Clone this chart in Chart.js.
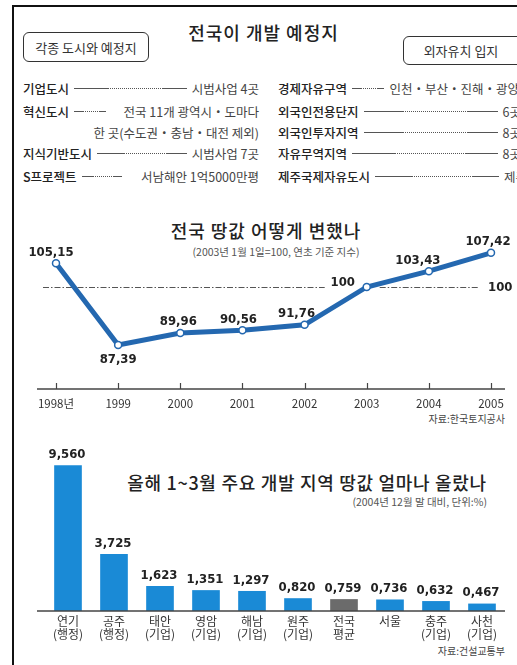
<!DOCTYPE html>
<html><head><meta charset="utf-8">
<script src="https://cdn.jsdelivr.net/npm/chart.js@4.4.1/dist/chart.umd.min.js"></script>
<style>
html,body{margin:0;padding:0;}
body{width:517px;height:665px;position:relative;overflow:hidden;background:#fff;font-family:'Noto Sans CJK KR',sans-serif;color:#222;}
.fTop{position:absolute;left:12px;top:5px;width:520px;height:2px;background:#111;}
.fLeft{position:absolute;left:12px;top:5px;width:2px;height:670px;background:#111;}
.t{position:absolute;white-space:nowrap;line-height:1;}
.box{position:absolute;border:1px solid #333;border-radius:6px;box-sizing:border-box;display:flex;align-items:center;justify-content:center;font-size:13px;color:#333;background:#fff;}
.row{position:absolute;display:flex;align-items:center;height:18px;font-size:12.5px;white-space:nowrap;}
.lab{font-weight:500;color:#222;}
.val{color:#444;}
.lead{flex:1;margin:0 5px;height:0;border-top:1px dotted #555;position:relative;}
.lead::before{content:'';position:absolute;left:0;top:-1px;width:30%;border-top:1px solid #555;}
.lead::after{content:'';position:absolute;right:0;top:-1px;width:22%;border-top:1px solid #555;}
canvas{position:absolute;left:0;}
</style></head>
<body>
<div class="fTop"></div><div class="fLeft"></div>

<div class="t" style="left:0;width:527px;top:23px;text-align:center;font-size:18px;letter-spacing:1px;font-weight:500;">전국이 개발 예정지</div>
<div class="box" style="left:23px;top:32px;width:126px;height:30px;">각종 도시와 예정지</div>
<div class="box" style="left:403px;top:36px;width:130px;height:29px;"><span style="margin-right:14px">외자유치 입지</span></div>

<div class="row" style="left:23px;width:236px;top:79px"><span class="lab">기업도시</span><span class="lead"></span><span class="val">시범사업 4곳</span></div>
<div class="row" style="left:23px;width:236px;top:102px"><span class="lab">혁신도시</span><span class="lead" style="flex:0 0 32px"></span><span class="val" style="margin-left:auto">전국 11개 광역시・도마다</span></div>
<div class="row" style="left:23px;width:236px;top:123px;justify-content:flex-end"><span class="val">한 곳(수도권・충남・대전 제외)</span></div>
<div class="row" style="left:23px;width:236px;top:144px"><span class="lab">지식기반도시</span><span class="lead"></span><span class="val">시범사업 7곳</span></div>
<div class="row" style="left:23px;width:236px;top:167px"><span class="lab">S프로젝트</span><span class="lead" style="flex:0 0 40px"></span><span class="val" style="margin-left:auto">서남해안 1억5000만평</span></div>

<div class="row" style="left:278px;width:241px;top:79px"><span class="lab">경제자유구역</span><span class="lead"></span><span class="val">인천・부산・진해・광양</span></div>
<div class="row" style="left:278px;width:243px;top:102px"><span class="lab">외국인전용단지</span><span class="lead"></span><span class="val">6곳</span></div>
<div class="row" style="left:278px;width:243px;top:123px"><span class="lab">외국인투자지역</span><span class="lead"></span><span class="val">8곳</span></div>
<div class="row" style="left:278px;width:243px;top:144px"><span class="lab">자유무역지역</span><span class="lead"></span><span class="val">8곳</span></div>
<div class="row" style="left:278px;width:249px;top:167px"><span class="lab">제주국제자유도시</span><span class="lead"></span><span class="val">제주</span></div>

<div class="t" style="left:0;width:532px;top:221px;text-align:center;font-size:18px;letter-spacing:1px;font-weight:500;">전국 땅값 어떻게 변했나</div>
<div class="t" style="left:0;width:552px;top:247px;text-align:center;font-size:10.5px;color:#555;">(2003년 1월 1일=100, 연초 기준 지수)</div>
<div class="t" style="right:12px;top:414px;font-size:10px;color:#444;">자료:한국토지공사</div>

<div class="t" style="left:107px;width:400px;top:473px;text-align:center;font-size:18px;letter-spacing:0.7px;font-weight:500;">올해 1~3월 주요 개발 지역 땅값 얼마나 올랐나</div>
<div class="t" style="right:30px;top:497px;font-size:10.5px;color:#555;">(2004년 12월 말 대비, 단위:%)</div>
<div class="t" style="right:12px;top:646px;font-size:10px;color:#444;">자료:건설교통부</div>

<canvas id="line" width="517" height="240" style="top:200px"></canvas>
<canvas id="bar" width="517" height="225" style="top:440px"></canvas>

<script>
// ---- data ----
const years = ['1998년','1999','2000','2001','2002','2003','2004','2005'];
const landIndex = [105.15, 87.39, 89.96, 90.56, 91.76, 100, 103.43, 107.42];
const baseIndex = 100;

const regions = [['연기','(행정)'],['공주','(행정)'],['태안','(기업)'],['영암','(기업)'],['해남','(기업)'],['원주','(기업)'],['전국','평균'],['서울'],['충주','(기업)'],['사천','(기업)']];
const riseRates = [9.560, 3.725, 1.623, 1.351, 1.297, 0.820, 0.759, 0.736, 0.632, 0.467];
const highlightIndex = 6; // 전국 평균

// ---- styling / label placement ----
const numFont = "bold 13px 'Liberation Sans Narrow','DejaVu Sans Condensed',sans-serif";
const lineLabelDx = [-5, 0, -2, -4, -8, -24, -11, -3];
const lineLabelDy = [-11, 15, -11, -11, -11, -4, -11, -11];
const fmt = (v, d) => Number.isInteger(v) ? String(v) : v.toFixed(d).replace('.', ',');

const axisPlugin = (extL, extR, ticksUp) => ({
  id: 'axisLine',
  afterDraw(chart) {
    const ctx = chart.ctx, xs = chart.scales.x, ca = chart.chartArea;
    const y = ca.bottom;
    ctx.save();
    ctx.strokeStyle = '#444'; ctx.lineWidth = 1.5;
    ctx.beginPath(); ctx.moveTo(ca.left - extL, y); ctx.lineTo(ca.right + extR, y); ctx.stroke();
    if (ticksUp) {
      ctx.lineWidth = 1.2;
      xs.ticks.forEach((t, i) => {
        const x = Math.round(xs.getPixelForTick(i)) + 0.5;
        ctx.beginPath(); ctx.moveTo(x, y - 6); ctx.lineTo(x, y); ctx.stroke();
      });
    }
    ctx.restore();
  }
});

// ---- line chart ----
new Chart(document.getElementById('line'), {
  type: 'line',
  data: { labels: years, datasets: [{
    data: landIndex, borderColor: '#2468b0', borderWidth: 5, tension: 0,
    pointRadius: 3.5, pointBorderWidth: 1.5, pointBackgroundColor: '#fff', pointBorderColor: '#2468b0',
    clip: false
  }]},
  options: {
    responsive: false, animation: false, devicePixelRatio: 1,
    layout: { padding: { top: 41, left: 56, right: 26, bottom: 21 } },
    plugins: { legend: { display: false }, tooltip: { enabled: false } },
    scales: {
      y: { display: false, min: 77.8, max: 110 },
      x: { offset: false, border: { display: false }, grid: { display: false },
           afterFit: s => { s.height = 30; },
           ticks: { padding: 0, color: '#333', maxRotation: 0, autoSkip: false,
                    font: { family: "'Liberation Sans Narrow','Noto Sans CJK KR',sans-serif", size: 11.5 } } }
    }
  },
  plugins: [
    axisPlugin(19, 14, true),
    {
      id: 'baseLine',
      beforeDatasetsDraw(chart) {
        const ctx = chart.ctx, xs = chart.scales.x, ys = chart.scales.y;
        const y = Math.round(ys.getPixelForValue(baseIndex)) + 0.5;
        const i5 = landIndex.indexOf(baseIndex), n = landIndex.length - 1;
        ctx.save();
        ctx.strokeStyle = '#555'; ctx.lineWidth = 1; ctx.setLineDash([6, 2, 1.5, 2]);
        ctx.beginPath();
        ctx.moveTo(xs.getPixelForValue(0) - 13, y); ctx.lineTo(xs.getPixelForValue(i5) - 42, y);
        ctx.moveTo(xs.getPixelForValue(i5) + 13, y); ctx.lineTo(xs.getPixelForValue(n) - 13, y);
        ctx.stroke();
        ctx.setLineDash([]);
        ctx.font = numFont; ctx.fillStyle = '#222'; ctx.textAlign = 'left'; ctx.textBaseline = 'middle';
        ctx.fillText(String(baseIndex), xs.getPixelForValue(n) - 3, y);
        ctx.restore();
      }
    },
    {
      id: 'pointLabels',
      afterDatasetsDraw(chart) {
        const ctx = chart.ctx, meta = chart.getDatasetMeta(0);
        ctx.save();
        ctx.font = numFont; ctx.fillStyle = '#222'; ctx.textAlign = 'center'; ctx.textBaseline = 'middle';
        meta.data.forEach((p, i) => ctx.fillText(fmt(landIndex[i], 2), p.x + lineLabelDx[i], p.y + lineLabelDy[i]));
        ctx.restore();
      }
    }
  ]
});

// ---- bar chart ----
new Chart(document.getElementById('bar'), {
  type: 'bar',
  data: { labels: regions, datasets: [{
    data: riseRates,
    backgroundColor: riseRates.map((v, i) => i === highlightIndex ? '#6b6b6b' : '#1a8ad6'),
    barThickness: 27, borderWidth: 0
  }]},
  options: {
    responsive: false, animation: false, devicePixelRatio: 1,
    layout: { padding: { top: 19, left: 45, right: 12, bottom: 4 } },
    plugins: { legend: { display: false }, tooltip: { enabled: false } },
    scales: {
      y: { display: false, min: 0, max: 10 },
      x: { border: { display: false }, grid: { display: false },
           afterFit: s => { s.height = 50; },
           ticks: { padding: -4, color: '#333', maxRotation: 0, autoSkip: false,
                    font: { family: "'Noto Sans CJK KR',sans-serif", size: 12, lineHeight: 1.1 } } }
    }
  },
  plugins: [
    axisPlugin(8, 0, false),
    {
      id: 'barLabels',
      afterDatasetsDraw(chart) {
        const ctx = chart.ctx, meta = chart.getDatasetMeta(0);
        ctx.save();
        ctx.font = numFont; ctx.fillStyle = '#222'; ctx.textAlign = 'center'; ctx.textBaseline = 'middle';
        meta.data.forEach((b, i) => ctx.fillText(fmt(riseRates[i], 3), b.x - 1, b.y - 11));
        ctx.restore();
      }
    }
  ]
});
</script>
</body></html>
